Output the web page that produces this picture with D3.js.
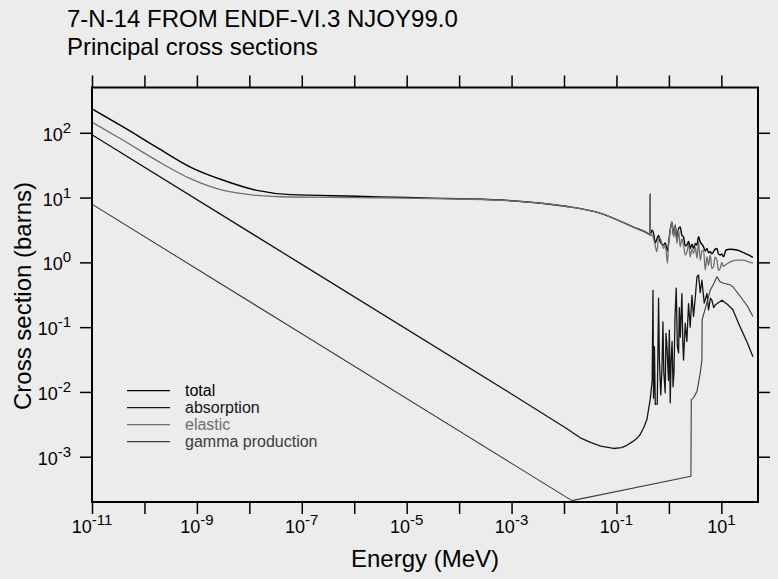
<!DOCTYPE html>
<html>
<head>
<meta charset="utf-8">
<script src="https://cdn.jsdelivr.net/npm/d3@7"></script>
<style>
  body { margin: 0; background: #ececec; }
  svg { display: block; font-family: "Liberation Sans", Arial, sans-serif; }
</style>
</head>
<body>
<svg id="chart" width="778" height="579"></svg>
<script>
// [energy MeV, cross section barns]
var total = [[1e-11,234],[4e-11,122],[1.7e-10,60],[7.5e-10,29.6],[3.2e-9,18.5],[1.4e-8,12.9],[6e-8,11.1],[1.1e-6,10.5],
  [1e-5,10.0],[1e-4,9.6],[1e-3,8.95],[1e-2,7.4],[5e-2,5.7],[0.21,3.5],[0.41,2.75],[0.437,2.65],[0.44,11.5],[0.443,2.65],
  [0.475,3.14],[0.51,2.8],[0.55,2.0],[0.59,2.3],[0.635,2.6],[0.68,2.1],[0.79,1.85],[0.85,2.0],[0.94,1.5],[0.98,1.9],
  [1.06,3.14],[1.14,4.21],[1.23,2.6],[1.32,3.75],[1.42,2.2],[1.53,3.3],[1.64,3.53],[1.77,2.6],[1.90,2.48],[2.05,1.8],
  [2.21,1.85],[2.38,2.1],[2.55,1.64],[2.75,1.9],[2.95,1.64],[3.2,1.95],[3.43,1.85],[3.67,2.48],[3.96,2.07],[4.26,1.9],
  [4.58,1.74],[4.93,1.5],[5.32,1.64],[5.7,1.4],[6.15,1.46],[6.6,1.35],[7.1,1.46],[7.6,1.6],[8.24,1.64],[8.8,1.35],
  [9.53,1.30],[10.2,1.35],[11.0,1.22],[12.3,1.55],[14.8,1.59],[19.8,1.55],[26.5,1.41],[33,1.30],[40,1.19]];

var absorption = [[1e-11,93],[1e-7,0.93],[1e-3,9.3e-3],[1.14e-2,2.7e-3],[2.04e-2,1.96e-3],[3.3e-2,1.65e-3],[5e-2,1.46e-3],
  [8.8e-2,1.34e-3],[0.125,1.38e-3],[0.158,1.5e-3],[0.21,1.74e-3],[0.25,1.95e-3],[0.284,2.2e-3],[0.33,2.8e-3],[0.38,3.75e-3],
  [0.44,7.6e-3],[0.48,1.5e-2],[0.497,0.37],[0.51,8e-3],
  [0.53,0.05],[0.55,6.4e-3],[0.60,6.5e-3],[0.635,0.28],[0.66,0.03],[0.70,9e-3],[0.736,0.022],[0.77,0.12],[0.80,0.02],
  [0.85,9.7e-3],[0.88,0.08],[0.92,0.05],[0.98,0.015],[1.02,0.09],[1.06,6.8e-3],[1.10,0.03],[1.15,0.06],[1.2,0.012],
  [1.25,0.02],[1.31,0.15],[1.38,0.40],[1.45,0.05],[1.53,0.04],[1.58,0.2],[1.65,0.07],[1.77,0.33],[1.84,0.06],[1.90,0.031],
  [2.05,0.115],[2.2,0.06],[2.37,0.23],[2.55,0.10],[2.75,0.31],[2.95,0.146],[3.2,0.3],[3.43,0.60],[3.67,0.64],[3.96,0.34],
  [4.26,0.53],[4.72,0.235],[5.32,0.33],[5.7,0.185],[6.2,0.28],[6.62,0.26],[7.15,0.20],[7.65,0.22],[8.85,0.24],[10.3,0.26],
  [13,0.225],[16.6,0.185],[22.9,0.10],[31.5,0.057],[40,0.035]];

var elastic = [[1e-11,146],[4e-11,76],[1.7e-10,37.5],[7.5e-10,19.6],[3.2e-9,12.9],[1.4e-8,10.8],[6e-8,10.2],[1e-6,10.0],
  [1e-5,9.8],[1e-4,9.5],[1e-3,8.9],[1e-2,7.4],[5e-2,5.7],[0.21,3.5],[0.41,2.75],[0.437,2.65],[0.44,11.5],[0.443,2.6],
  [0.475,2.63],[0.51,2.34],[0.55,1.8],[0.59,1.46],[0.635,2.34],[0.68,2.34],[0.79,1.64],[0.85,1.9],[0.94,0.97],[0.98,1.74],
  [1.06,3.14],[1.14,4.21],[1.23,2.48],[1.32,3.75],[1.42,1.96],[1.53,3.14],[1.64,1.74],[1.77,2.3],[1.90,1.85],[2.05,1.3],
  [2.21,1.46],[2.38,1.9],[2.55,1.22],[2.75,1.6],[2.95,1.38],[3.2,1.7],[3.43,1.15],[3.67,2.07],[3.96,1.08],[4.26,1.5],
  [4.58,1.55],[4.93,0.76],[5.32,1.22],[5.7,0.9],[6.15,1.30],[6.6,0.8],[7.1,0.86],[7.6,1.2],[8.24,1.08],[8.8,0.75],
  [9.53,0.81],[10.2,1.0],[11.0,0.86],[11.9,0.91],[14.8,1.02],[19.8,1.08],[26.5,1.08],[33,1.02],[40,0.97]];

var gammaProduction = [[1e-11,7.9],[1e-7,0.079],[1e-3,7.9e-4],[1.42e-2,2.1e-4],[2.63,5.0e-4],[2.67,7.6e-3],[2.95,8.1e-3],
  [3.43,1.02e-2],[3.96,1.96e-2],[4.26,0.031],[4.3,0.13],[5.0,0.2],[6.15,0.375],[7.0,0.45],[8.24,0.60],[9.5,0.5],
  [11.0,0.475],[14.8,0.45],[16.6,0.42],[22.9,0.30],[31.5,0.21],[40,0.146]];

var xDecades = [-11,-10,-9,-8,-7,-6,-5,-4,-3,-2,-1,0,1];
var xLabelDecades = [-11,-9,-7,-5,-3,-1,1];
var yDecades = [2,1,0,-1,-2,-3];

var series = [
  { name: 'total', data: total, color: '#000000', width: 1.4, smooth: true },
  { name: 'absorption', data: absorption, color: '#161616', width: 1.3, smooth: false },
  { name: 'elastic', data: elastic, color: '#6f6f6f', width: 1.3, smooth: true },
  { name: 'gamma production', data: gammaProduction, color: '#3c3c3c', width: 1.1, smooth: false }
];

// plot box (window.top is reserved, so use other names)
var boxLeft = 92, boxRight = 758, boxTop = 87.5, boxBottom = 502;

var svg = d3.select('#chart');

var x = d3.scaleLog().domain([1e-11, 50]).range([boxLeft, boxRight]);
var y = d3.scaleLog().domain([2e-4, 500]).range([boxBottom, boxTop]);

// titles
svg.append('text').attr('x', 67).attr('y', 27).attr('font-size', 24).text('7-N-14 FROM ENDF-VI.3 NJOY99.0');
svg.append('text').attr('x', 67).attr('y', 55).attr('font-size', 24).text('Principal cross sections');

svg.append('defs').append('clipPath').attr('id', 'plotclip')
  .append('rect').attr('x', boxLeft).attr('y', boxTop)
  .attr('width', boxRight - boxLeft).attr('height', boxBottom - boxTop);

// curves
var plot = svg.append('g').attr('clip-path', 'url(#plotclip)');
series.forEach(function(s) {
  var line = d3.line()
    .curve(s.smooth ? d3.curveMonotoneX : d3.curveLinear)
    .x(function(d) { return x(d[0]); })
    .y(function(d) { return y(d[1]); });
  plot.append('path')
    .datum(s.data)
    .attr('fill', 'none')
    .attr('stroke', s.color)
    .attr('stroke-width', s.width)
    .attr('stroke-linejoin', 'round')
    .attr('d', line);
});

// ticks on all four sides, outward
var xTickVals = xDecades.map(function(p) { return Math.pow(10, p); });
var yTickVals = yDecades.map(function(p) { return Math.pow(10, p); });

function tickStyle(g) {
  g.select('.domain').remove();
  g.selectAll('line').attr('stroke', '#000').attr('stroke-width', 1.5);
}

svg.append('g').attr('transform', 'translate(0,' + boxBottom + ')')
  .call(d3.axisBottom(x).tickValues(xTickVals).tickSize(12).tickFormat(''))
  .call(tickStyle);
svg.append('g').attr('transform', 'translate(0,' + boxTop + ')')
  .call(d3.axisTop(x).tickValues(xTickVals).tickSize(12).tickFormat(''))
  .call(tickStyle);
svg.append('g').attr('transform', 'translate(' + boxLeft + ',0)')
  .call(d3.axisLeft(y).tickValues(yTickVals).tickSize(12).tickFormat(''))
  .call(tickStyle);
svg.append('g').attr('transform', 'translate(' + boxRight + ',0)')
  .call(d3.axisRight(y).tickValues(yTickVals).tickSize(12).tickFormat(''))
  .call(tickStyle);

// frame
svg.append('rect')
  .attr('x', boxLeft).attr('y', boxTop)
  .attr('width', boxRight - boxLeft).attr('height', boxBottom - boxTop)
  .attr('fill', 'none').attr('stroke', '#000').attr('stroke-width', 2);

// tick labels as 10 with superscript exponent
function powerLabel(t, p) {
  t.append('tspan').text('10');
  t.append('tspan').attr('font-size', 15).attr('dy', -8).text(p);
}

xLabelDecades.forEach(function(p) {
  var t = svg.append('text')
    .attr('x', x(Math.pow(10, p)))
    .attr('y', 533)
    .attr('font-size', 18)
    .attr('text-anchor', 'middle');
  powerLabel(t, p);
});

yDecades.forEach(function(p) {
  var t = svg.append('text')
    .attr('x', 71)
    .attr('y', y(Math.pow(10, p)) + 8)
    .attr('font-size', 18)
    .attr('text-anchor', 'end');
  powerLabel(t, p);
});

// axis titles
svg.append('text')
  .attr('x', 425).attr('y', 567)
  .attr('font-size', 24).attr('text-anchor', 'middle')
  .text('Energy (MeV)');
svg.append('text')
  .attr('transform', 'translate(31,296) rotate(-90)')
  .attr('font-size', 24).attr('text-anchor', 'middle')
  .text('Cross section (barns)');

// legend
var legend = svg.append('g');
series.forEach(function(s, i) {
  var ly = 390.7 + i * 17;
  legend.append('line')
    .attr('x1', 127).attr('x2', 170).attr('y1', ly).attr('y2', ly)
    .attr('stroke', s.color).attr('stroke-width', 1.3);
  legend.append('text')
    .attr('x', 185).attr('y', ly + 5.5)
    .attr('font-size', 16).attr('fill', s.color)
    .text(s.name);
});
</script>
</body>
</html>
